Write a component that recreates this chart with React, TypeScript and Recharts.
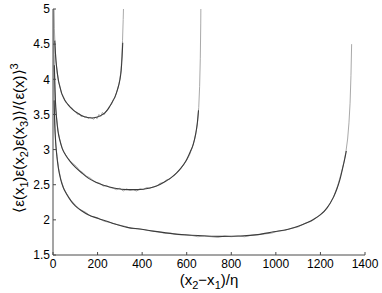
import { LineChart, Line, XAxis, YAxis, Label } from "recharts"

const xTicks = [0, 200, 400, 600, 800, 1000, 1200, 1400]
const yTicks = [1.5, 2, 2.5, 3, 3.5, 4, 4.5, 5]

// smallest separation: fitted curve (dark) and measured curve (light)
const fitAX = [8, 12, 16, 24, 32, 39, 50, 60, 70, 85, 100, 115, 130, 150, 173, 195, 218, 235, 250, 263, 278, 290, 300, 306, 310, 313]
const fitAY = [4.55, 4.32, 4.18, 3.99, 3.88, 3.8, 3.72, 3.67, 3.63, 3.58, 3.54, 3.51, 3.48, 3.46, 3.45, 3.46, 3.49, 3.53, 3.59, 3.66, 3.75, 3.86, 3.99, 4.13, 4.32, 4.52]
const rawAX = [2, 4, 6, 9, 13, 18, 24, 30, 38, 46, 54, 62, 70, 78, 86, 94, 102, 110, 118, 126, 134, 142, 150, 158, 166, 174, 182, 190, 198, 206, 214, 222, 230, 238, 246, 254, 262, 270, 278, 286, 294, 300, 305, 309, 312, 315, 317, 319]
const rawAY = [5.6, 5.05, 4.72, 4.5, 4.27, 4.12, 3.98, 3.91, 3.8, 3.76, 3.69, 3.66, 3.64, 3.6, 3.59, 3.55, 3.54, 3.5, 3.51, 3.47, 3.48, 3.46, 3.47, 3.44, 3.46, 3.45, 3.43, 3.46, 3.44, 3.5, 3.47, 3.53, 3.5, 3.55, 3.57, 3.62, 3.64, 3.71, 3.74, 3.82, 3.91, 4.0, 4.12, 4.33, 4.55, 4.85, 5.1, 5.6]

// middle separation
const fitBX = [6, 9, 12, 16, 22, 30, 42, 55, 70, 85, 100, 128, 160, 190, 230, 278, 330, 380, 430, 470, 500, 530, 555, 575, 595, 616, 630, 640, 647, 653]
const fitBY = [4.2, 3.85, 3.62, 3.45, 3.27, 3.14, 3.01, 2.93, 2.86, 2.8, 2.75, 2.67, 2.59, 2.54, 2.49, 2.45, 2.43, 2.43, 2.45, 2.49, 2.54, 2.6, 2.67, 2.74, 2.83, 2.97, 3.08, 3.22, 3.36, 3.56]
const rawBX = [1.5, 3, 5, 8, 12, 17, 23, 30, 40, 50, 62, 75, 90, 105, 120, 135, 150, 165, 180, 195, 210, 225, 240, 255, 270, 285, 300, 315, 330, 345, 360, 375, 390, 405, 420, 435, 450, 465, 480, 495, 510, 525, 540, 555, 570, 585, 600, 612, 624, 634, 642, 649, 654, 658, 661, 663, 665]
const rawBY = [5.6, 4.95, 4.35, 3.92, 3.6, 3.42, 3.26, 3.15, 3.03, 2.96, 2.9, 2.84, 2.8, 2.76, 2.7, 2.67, 2.62, 2.6, 2.56, 2.53, 2.52, 2.48, 2.49, 2.46, 2.45, 2.43, 2.45, 2.41, 2.44, 2.42, 2.43, 2.41, 2.44, 2.43, 2.46, 2.45, 2.47, 2.48, 2.52, 2.53, 2.57, 2.58, 2.63, 2.67, 2.72, 2.78, 2.85, 2.92, 3.02, 3.13, 3.24, 3.4, 3.6, 3.9, 4.3, 4.8, 5.6]

// largest separation
const fitCX = [5, 8, 12, 16, 24, 35, 46, 60, 83, 100, 128, 160, 203, 242, 278, 338, 391, 450, 541, 620, 690, 760, 840, 920, 989, 1060, 1100, 1139, 1170, 1199, 1230, 1258, 1275, 1288, 1300, 1310, 1316]
const fitCY = [3.7, 3.35, 3.1, 2.95, 2.74, 2.57, 2.46, 2.37, 2.26, 2.2, 2.13, 2.07, 2.02, 1.98, 1.94, 1.89, 1.87, 1.84, 1.8, 1.78, 1.77, 1.765, 1.77, 1.79, 1.83, 1.87, 1.91, 1.96, 2.01, 2.07, 2.17, 2.32, 2.45, 2.58, 2.74, 2.88, 2.98]
const rawCX = [1, 2.5, 4, 6, 9, 13, 18, 25, 35, 48, 62, 80, 100, 120, 145, 170, 200, 230, 260, 290, 320, 350, 380, 410, 440, 470, 500, 530, 560, 590, 620, 650, 680, 710, 740, 770, 800, 830, 860, 890, 920, 950, 980, 1010, 1040, 1070, 1100, 1130, 1160, 1190, 1215, 1240, 1260, 1278, 1292, 1304, 1314, 1322, 1328, 1333, 1337, 1340]
const rawCY = [5.6, 4.9, 4.1, 3.6, 3.3, 3.05, 2.9, 2.73, 2.58, 2.45, 2.37, 2.28, 2.21, 2.15, 2.11, 2.05, 2.03, 1.98, 1.96, 1.93, 1.91, 1.88, 1.87, 1.86, 1.84, 1.83, 1.81, 1.81, 1.79, 1.79, 1.78, 1.76, 1.77, 1.76, 1.75, 1.77, 1.76, 1.77, 1.76, 1.78, 1.79, 1.8, 1.81, 1.84, 1.85, 1.88, 1.9, 1.95, 1.98, 2.05, 2.11, 2.22, 2.33, 2.49, 2.65, 2.8, 2.96, 3.15, 3.38, 3.66, 4.05, 4.5]

const FONT = "'Liberation Sans', Arial, Helvetica, sans-serif"
const AXIS = "#4a4a4a"
const FIT = "#3c3c3c"
const RAW = "#a9a9a9"

const zip = (xs: number[], ys: number[]) => xs.map((x, i) => ({ x, y: ys[i] }))

const rawSeries = [zip(rawAX, rawAY), zip(rawBX, rawBY), zip(rawCX, rawCY)]
const fitSeries = [zip(fitAX, fitAY), zip(fitBX, fitBY), zip(fitCX, fitCY)]

const SUB = 4

function YTitle() {
  return (
    <text
      transform="translate(24,138) rotate(-90)"
      textAnchor="middle"
      fontSize={15}
      fontFamily={FONT}
      fill="#000"
    >
      ⟨ε(x<tspan dy={SUB} fontSize={11}>1</tspan>
      <tspan dy={-SUB}>)ε(x</tspan>
      <tspan dy={SUB} fontSize={11}>2</tspan>
      <tspan dy={-SUB}>)ε(x</tspan>
      <tspan dy={SUB} fontSize={11}>3</tspan>
      <tspan dy={-SUB}>)⟩/⟨ε(x)⟩</tspan>
      <tspan dy={-6} fontSize={11}>3</tspan>
    </text>
  )
}

function XTitle() {
  return (
    <text x={209} y={284.5} textAnchor="middle" fontSize={15} fontFamily={FONT} fill="#000">
      (x<tspan dy={SUB} fontSize={11}>2</tspan>
      <tspan dy={-SUB}>−x</tspan>
      <tspan dy={SUB} fontSize={11}>1</tspan>
      <tspan dy={-SUB}>)/η</tspan>
    </text>
  )
}

export default function App() {
  return (
    <div style={{ position: "absolute", left: 0, top: 0, background: "#fff" }}>
      <LineChart width={382} height={293} margin={{ top: 9, right: 17, bottom: 8, left: 13 }}>
        <XAxis
          type="number"
          dataKey="x"
          domain={[0, 1400]}
          ticks={xTicks}
          interval={0}
          height={30}
          allowDataOverflow
          stroke={AXIS}
          tickSize={-3}
          tickMargin={7}
          tick={{ fill: "#000", fontSize: 12, fontFamily: FONT }}
        >
          <Label content={<XTitle />} />
        </XAxis>
        <YAxis
          type="number"
          dataKey="y"
          domain={[1.5, 5]}
          ticks={yTicks}
          interval={0}
          width={40}
          allowDataOverflow
          stroke={AXIS}
          tickSize={-3}
          tickMargin={6}
          tick={{ fill: "#000", fontSize: 12, fontFamily: FONT }}
        >
          <Label content={<YTitle />} />
        </YAxis>
        {rawSeries.map((d, i) => (
          <Line
            key={`raw${i}`}
            data={d}
            dataKey="y"
            type="linear"
            stroke={RAW}
            strokeWidth={1}
            dot={false}
            activeDot={false}
            isAnimationActive={false}
          />
        ))}
        {fitSeries.map((d, i) => (
          <Line
            key={`fit${i}`}
            data={d}
            dataKey="y"
            type="monotone"
            stroke={FIT}
            strokeWidth={1.1}
            dot={false}
            activeDot={false}
            isAnimationActive={false}
          />
        ))}
      </LineChart>
    </div>
  )
}
